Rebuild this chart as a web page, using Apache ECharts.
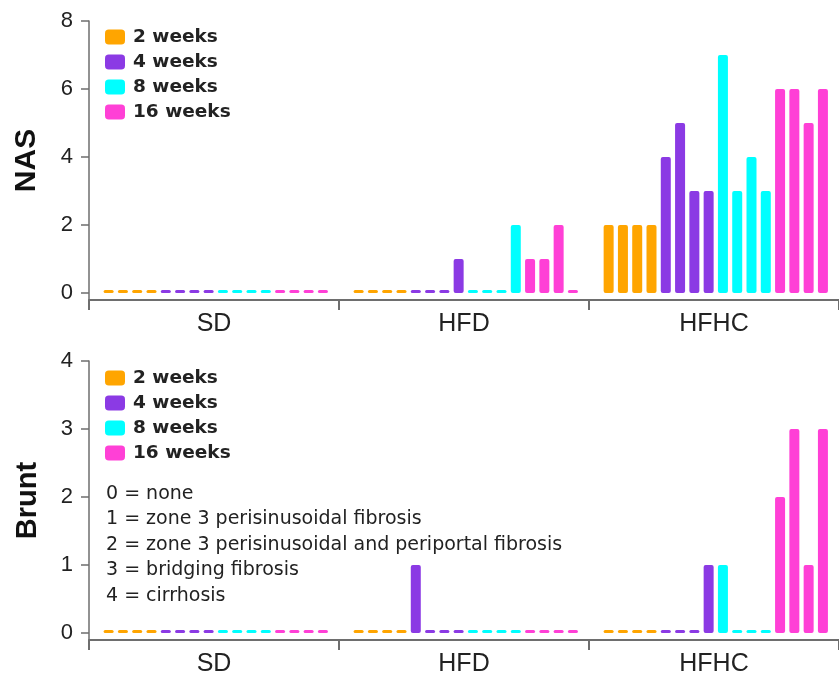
<!DOCTYPE html>
<html><head><meta charset="utf-8">
<script src="https://cdn.jsdelivr.net/npm/echarts@6/dist/echarts.min.js"></script>
<style>html,body{margin:0;padding:0;background:#fff}#c{width:839px;height:680px}</style>
</head><body><div id="c"></div>
<script>
const groups = ['SD', 'HFD', 'HFHC'];
const weeks = ['2 weeks', '4 weeks', '8 weeks', '16 weeks'];
// individual animals: SD x4, HFD x4, HFHC x4
const nas2w  = [0,0,0,0, 0,0,0,0, 2,2,2,2];
const nas4w  = [0,0,0,0, 0,0,0,1, 4,5,3,3];
const nas8w  = [0,0,0,0, 0,0,0,2, 7,3,4,3];
const nas16w = [0,0,0,0, 1,1,2,0, 6,6,5,6];
const brunt2w  = [0,0,0,0, 0,0,0,0, 0,0,0,0];
const brunt4w  = [0,0,0,0, 1,0,0,0, 0,0,0,1];
const brunt8w  = [0,0,0,0, 0,0,0,0, 1,0,0,0];
const brunt16w = [0,0,0,0, 0,0,0,0, 2,3,1,3];
const nasTicks = [0, 2, 4, 6, 8];
const bruntTicks = [0, 1, 2, 3, 4];
const bruntNotes = [
  '0 = none',
  '1 = zone 3 perisinusoidal fibrosis',
  '2 = zone 3 perisinusoidal and periportal fibrosis',
  '3 = bridging fibrosis',
  '4 = cirrhosis'
];
const colors = ['#FFA500', '#8B3AE4', '#00FFFF', '#FF40D6'];

const SLOTS = 70; // sub-slots per diet group
const nSlots = SLOTS * groups.length;
const slotCats = Array.from({length: nSlots}, (_, i) => 's' + i);

function place(vals, w) {
  const arr = new Array(nSlots).fill(null);
  vals.forEach((v, k) => {
    const g = Math.floor(k / 4), a = k % 4;
    const j = w * 4 + a;
    arr[g * SLOTS + 4 * j + 5] = v;
  });
  return arr;
}

const nasSets = [nas2w, nas4w, nas8w, nas16w];
const bruntSets = [brunt2w, brunt4w, brunt8w, brunt16w];

const axisColor = '#6e6e6e';
const labelFont = 'Liberation Sans';

function hiddenX(gi) {
  return {type: 'category', gridIndex: gi, data: slotCats, show: false, boundaryGap: true};
}
function visibleX(gi) {
  return {
    type: 'category', gridIndex: gi, data: groups, boundaryGap: true, position: 'bottom',
    axisLine: {show: true, onZero: false, lineStyle: {color: axisColor, width: 2}},
    axisTick: {show: true, length: 10, lineStyle: {color: axisColor, width: 2}},
    axisLabel: {fontSize: 25, margin: 12, color: '#222', fontFamily: labelFont},
    splitLine: {show: false}
  };
}
function yAx(gi, min, max, ticks, name, nameSize) {
  return {
    type: 'value', gridIndex: gi, min: min, max: max,
    name: name, nameLocation: 'middle', nameRotate: 90, nameGap: 47,
    nameTextStyle: {fontSize: nameSize, fontWeight: 'bold', color: '#111', fontFamily: labelFont},
    axisLine: {show: true, lineStyle: {color: axisColor, width: 1.5}},
    axisTick: {show: true, length: 8, customValues: ticks, lineStyle: {color: axisColor, width: 1.5}},
    axisLabel: {customValues: ticks, fontSize: 22, margin: 16, color: '#222', fontFamily: labelFont},
    splitLine: {show: false}
  };
}
function legend(top) {
  return {
    data: weeks, orient: 'vertical', left: 100, top: top,
    itemWidth: 20, itemHeight: 15, itemGap: 5, icon: 'roundRect', selectedMode: false,
    textStyle: {fontFamily: 'DejaVu Sans', fontWeight: 'bold', fontSize: 18.5, lineHeight: 20, color: '#222', padding: [0, 0, 0, 3]}
  };
}

const series = [];
weeks.forEach((wk, w) => {
  series.push({
    name: wk, type: 'bar', xAxisIndex: 0, yAxisIndex: 0,
    data: place(nasSets[w], w), barWidth: 10, barGap: '-100%', barMinHeight: 3,
    itemStyle: {color: colors[w], borderRadius: 2}, silent: true
  });
});
weeks.forEach((wk, w) => {
  series.push({
    name: wk, type: 'bar', xAxisIndex: 2, yAxisIndex: 1,
    data: place(bruntSets[w], w), barWidth: 10, barGap: '-100%', barMinHeight: 3,
    itemStyle: {color: colors[w], borderRadius: 2}, silent: true
  });
});

const chart = echarts.init(document.getElementById('c'), null, {renderer: 'canvas'});
chart.setOption({
  animation: false,
  backgroundColor: '#fff',
  color: colors,
  title: [{
    text: bruntNotes.join('\n'), left: 101, top: 476,
    textStyle: {fontSize: 19, fontWeight: 'normal', lineHeight: 25.5, fontFamily: 'DejaVu Sans', color: '#222'}
  }],
  legend: [legend(22), legend(363)],
  grid: [
    {left: 89, width: 752, top: 21, height: 279},
    {left: 89, width: 752, top: 361, height: 279}
  ],
  xAxis: [hiddenX(0), visibleX(0), hiddenX(1), visibleX(1)],
  yAxis: [
    yAx(0, -0.205, 8, nasTicks, 'NAS', 30),
    yAx(1, -0.103, 4, bruntTicks, 'Brunt', 29)
  ],
  series: series
});
</script></body></html>
